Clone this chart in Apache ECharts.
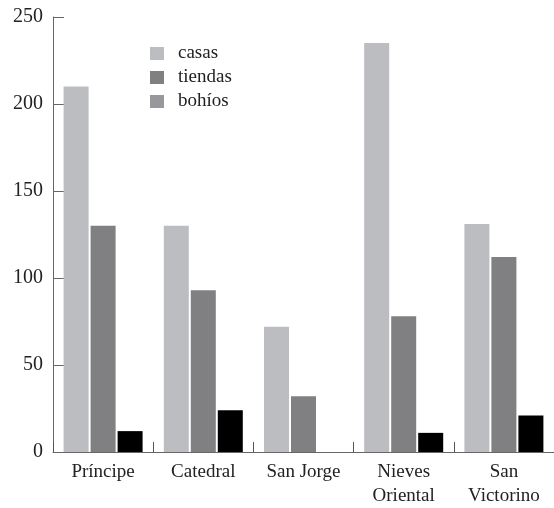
<!DOCTYPE html>
<html>
<head>
<meta charset="utf-8">
<script src="https://cdn.jsdelivr.net/npm/echarts@6/dist/echarts.min.js"></script>
<style>
html,body{margin:0;padding:0;background:#fff;}
#chart{width:554px;height:508px;}
</style>
</head>
<body>
<div id="chart"></div>
<script>
var barrios = ['Príncipe', 'Catedral', 'San Jorge', 'Nieves\nOriental', 'San\nVictorino'];
var casas = [210, 130, 72, 235, 131];
var tiendas = [130, 93, 32, 78, 112];
var bohios = [12, 24, 0, 11, 21];
var yTicks = [0, 50, 100, 150, 200, 250];

var fuente = '"Liberation Serif", "DejaVu Serif", serif';
var chart = echarts.init(document.getElementById('chart'));
var option = {
	animation: false,
	textStyle: { fontFamily: fuente },
	grid: { left: 53, right: 0, top: 17, bottom: 55, containLabel: false },
	legend: {
		orient: 'vertical',
		left: 145,
		top: 39,
		itemWidth: 14,
		itemHeight: 13,
		itemGap: 5,
		icon: 'rect',
		textStyle: { fontFamily: fuente, fontSize: 19, color: '#222', padding: [0, 0, 0, 9] },
		data: [
			{ name: 'casas' },
			{ name: 'tiendas' },
			{ name: 'bohíos', itemStyle: { color: '#98989c' } }
		]
	},
	xAxis: {
		type: 'category',
		data: barrios,
		axisLine: { lineStyle: { color: '#666', width: 1 } },
		axisTick: { show: true, inside: true, length: 10, lineStyle: { color: '#555', width: 1 } },
		axisLabel: { fontFamily: fuente, fontSize: 19, color: '#222', margin: 8, lineHeight: 24 }
	},
	yAxis: {
		type: 'value',
		min: yTicks[0],
		max: yTicks[yTicks.length - 1],
		interval: 50,
		splitLine: { show: false },
		axisLine: { show: true, lineStyle: { color: '#666', width: 1 } },
		axisTick: { show: true, inside: true, length: 11, lineStyle: { color: '#666' } },
		axisLabel: { fontFamily: fuente, fontSize: 20, color: '#222', margin: 10, padding: [5, 0, 0, 0] }
	},
	series: [
		{ name: 'casas', type: 'bar', data: casas, barWidth: 25, barGap: '8%', itemStyle: { color: '#bcbdc1' } },
		{ name: 'tiendas', type: 'bar', data: tiendas, barWidth: 25, barGap: '8%', itemStyle: { color: '#808083' } },
		{ name: 'bohíos', type: 'bar', data: bohios, barWidth: 25, barGap: '8%', itemStyle: { color: '#000' } }
	]
};
chart.setOption(option);
</script>
</body>
</html>
